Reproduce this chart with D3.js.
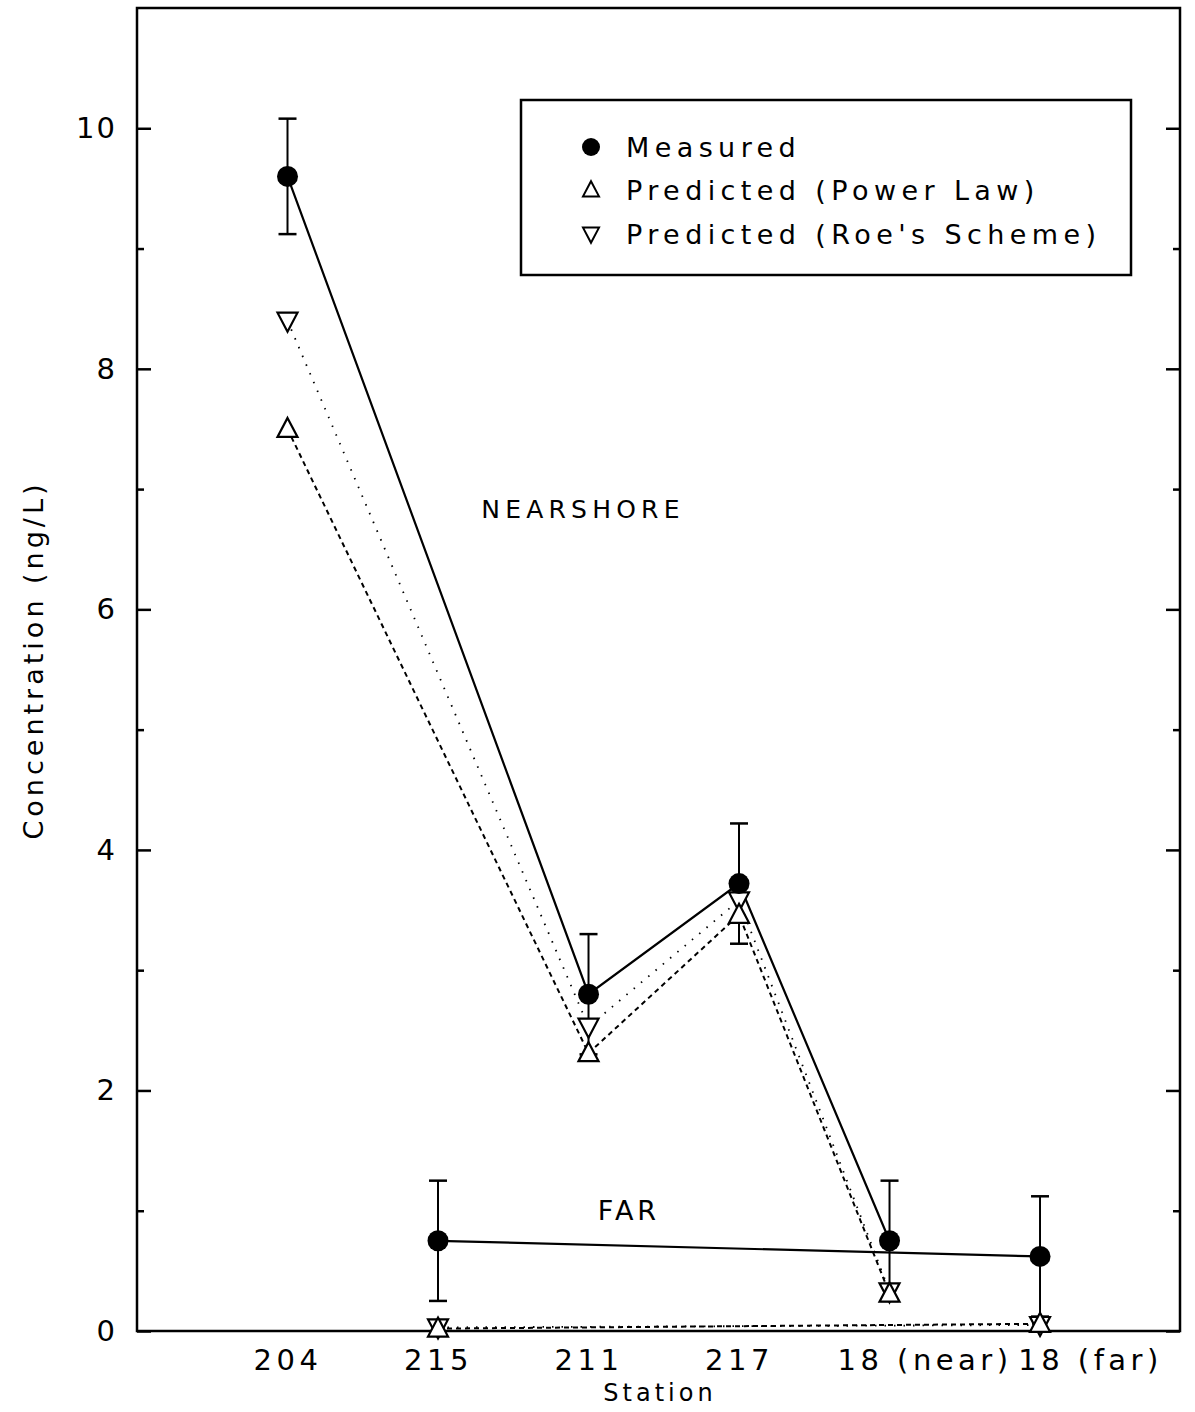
<!DOCTYPE html>
<html><head><meta charset="utf-8">
<script src="https://cdn.jsdelivr.net/npm/d3@7"></script>
<style>
body{margin:0;background:#fff;}
svg{display:block;}
text{font-family:"DejaVu Sans",sans-serif;fill:#000;}
</style></head>
<body><svg id="c" width="1195" height="1412"></svg>
<script>
// ---- data ----
const stations = ["204","215","211","217","18 (near)","18 (far)"];
const yTicks = [0,2,4,6,8,10];
const yMinorTicks = [1,3,5,7,9];
// nearshore series (stations 204, 211, 217, 18 (near))
const nearStations = ["204","211","217","18 (near)"];
const nearMeasured = [9.6, 2.8, 3.72, 0.75];
const nearMeasuredErr = [0.48, 0.5, 0.5, 0.5];
const nearPowerLaw = [7.5, 2.31, 3.46, 0.31];
const nearRoe = [8.4, 2.53, 3.58, 0.33];
// far series (stations 215, 18 (far))
const farStations = ["215","18 (far)"];
const farMeasured = [0.75, 0.62];
const farMeasuredErr = [0.5, 0.5];
const farPowerLaw = [0.02, 0.06];
const farRoe = [0.03, 0.05];
const legendLabels = ["Measured","Predicted (Power Law)","Predicted (Roe's Scheme)"];

// ---- layout ----
const L=137, R=1180, T=8, B=1331;
const svg=d3.select("#c");
const idx = s => stations.indexOf(s)+1;
const x=d3.scaleLinear().domain([0,6.93]).range([L,R]);
const y=d3.scaleLinear().domain([0,11]).range([B,T]);

// frame
svg.append("rect").attr("x",L).attr("y",T).attr("width",R-L).attr("height",B-T)
  .attr("fill","none").attr("stroke","#000").attr("stroke-width",2.5);

// left axis
const tickStyle=g=>{g.select(".domain").remove();g.selectAll("line").attr("stroke-width",2.5);};
svg.append("g").attr("transform",`translate(${L},0)`)
  .call(d3.axisRight(y).tickValues(yTicks).tickSize(14).tickFormat("")).call(tickStyle);
svg.append("g").attr("transform",`translate(${L},0)`)
  .call(d3.axisRight(y).tickValues(yMinorTicks).tickSize(7).tickFormat("")).call(tickStyle);
// left labels
const glab=svg.append("g").attr("transform",`translate(${L},0)`)
  .call(d3.axisLeft(y).tickValues(yTicks).tickSize(0).tickPadding(20).tickFormat(d3.format("d")));
glab.select(".domain").remove();
glab.selectAll("text").style("font-size","29px").style("font-family","DejaVu Sans").attr("letter-spacing","2");

// right axis ticks
svg.append("g").attr("transform",`translate(${R},0)`)
  .call(d3.axisLeft(y).tickValues(yTicks).tickSize(14).tickFormat("")).call(tickStyle);
svg.append("g").attr("transform",`translate(${R},0)`)
  .call(d3.axisLeft(y).tickValues(yMinorTicks).tickSize(7).tickFormat("")).call(tickStyle);

// bottom labels
const labelShift = {"18 (near)":35, "18 (far)":50};
const gb=svg.append("g").attr("transform",`translate(0,${B})`)
  .call(d3.axisBottom(x).tickValues(stations.map((s,i)=>i+1)).tickSize(0).tickPadding(18)
    .tickFormat(d=>stations[d-1]));
gb.select(".domain").remove();
gb.selectAll("text").style("font-size","29px").style("font-family","DejaVu Sans").attr("letter-spacing","4.5")
  .attr("dx",d=>labelShift[stations[d-1]]||0);

// axis titles
svg.append("text").attr("x",660).attr("y",1401).attr("text-anchor","middle")
  .style("font-size","24px").attr("letter-spacing","4").text("Station");
svg.append("text").attr("transform","translate(43,660) rotate(-90)").attr("text-anchor","middle")
  .style("font-size","27px").attr("letter-spacing","4").text("Concentration (ng/L)");

// annotations
svg.append("text").attr("x",583).attr("y",518).attr("text-anchor","middle")
  .style("font-size","25px").attr("letter-spacing","5.2").text("NEARSHORE");
svg.append("text").attr("x",629).attr("y",1220).attr("text-anchor","middle")
  .style("font-size","27px").attr("letter-spacing","4").text("FAR");

// line generator
const line=d3.line().x(d=>x(idx(d[0]))).y(d=>y(d[1]));
const zip=(s,v)=>s.map((k,i)=>[k,v[i]]);

const styles={
  measured:{dash:null,w:2.2},
  power:{dash:"5,4",w:2},
  roe:{dash:"1.5,8",w:1.8}
};
function drawLine(st,vals,sty){
  svg.append("path").datum(zip(st,vals)).attr("d",line).attr("fill","none")
    .attr("stroke","#000").attr("stroke-width",sty.w)
    .attr("stroke-dasharray",sty.dash);
}
drawLine(nearStations,nearPowerLaw,styles.power);
drawLine(farStations,farPowerLaw,styles.power);
drawLine(nearStations,nearRoe,styles.roe);
drawLine(farStations,farRoe,styles.roe);
drawLine(nearStations,nearMeasured,styles.measured);
drawLine(farStations,farMeasured,styles.measured);

// error bars
function errBars(st,vals,err){
  const g=svg.append("g");
  st.forEach((s,i)=>{
    const cx=x(idx(s)), y1=y(vals[i]+err[i]), y0=y(vals[i]-err[i]);
    g.append("line").attr("x1",cx).attr("x2",cx).attr("y1",y1).attr("y2",y0).attr("stroke","#000").attr("stroke-width",2);
    [y1,y0].forEach(yy=>g.append("line").attr("x1",cx-9).attr("x2",cx+9).attr("y1",yy).attr("y2",yy).attr("stroke","#000").attr("stroke-width",2.5));
  });
}
errBars(nearStations,nearMeasured,nearMeasuredErr);
errBars(farStations,farMeasured,farMeasuredErr);

// markers
const triUp = (cx,cy,s)=>`M${cx},${cy-s*0.55}L${cx+s/2},${cy+s*0.4}L${cx-s/2},${cy+s*0.4}Z`;
const triDn = (cx,cy,s)=>`M${cx},${cy+s*0.55}L${cx+s/2},${cy-s*0.4}L${cx-s/2},${cy-s*0.4}Z`;
function markers(st,vals,type){
  st.forEach((s,i)=>{
    const cx=x(idx(s)), cy=y(vals[i]);
    if(type==="circle") svg.append("circle").attr("cx",cx).attr("cy",cy).attr("r",10.5).attr("fill","#000");
    else svg.append("path").attr("d",(type==="up"?triUp:triDn)(cx,cy,20)).attr("fill","#fff").attr("stroke","#000").attr("stroke-width",2.2);
  });
}
markers(nearStations,nearRoe,"down");
markers(farStations,farRoe,"down");
markers(nearStations,nearPowerLaw,"up");
markers(farStations,farPowerLaw,"up");
markers(nearStations,nearMeasured,"circle");
markers(farStations,farMeasured,"circle");

// legend
svg.append("rect").attr("x",521).attr("y",100).attr("width",610).attr("height",175)
  .attr("fill","#fff").attr("stroke","#000").attr("stroke-width",2.5);
const ly=[147,190,234];
svg.append("circle").attr("cx",591).attr("cy",ly[0]).attr("r",9).attr("fill","#000");
svg.append("path").attr("d",triUp(591,ly[1],16)).attr("fill","none").attr("stroke","#000").attr("stroke-width",2);
svg.append("path").attr("d",triDn(591,ly[2],16)).attr("fill","none").attr("stroke","#000").attr("stroke-width",2);
legendLabels.forEach((t,i)=>svg.append("text").attr("x",626).attr("y",ly[i]+10)
  .style("font-size","27px").attr("letter-spacing","5.4").text(t));
</script></body></html>
